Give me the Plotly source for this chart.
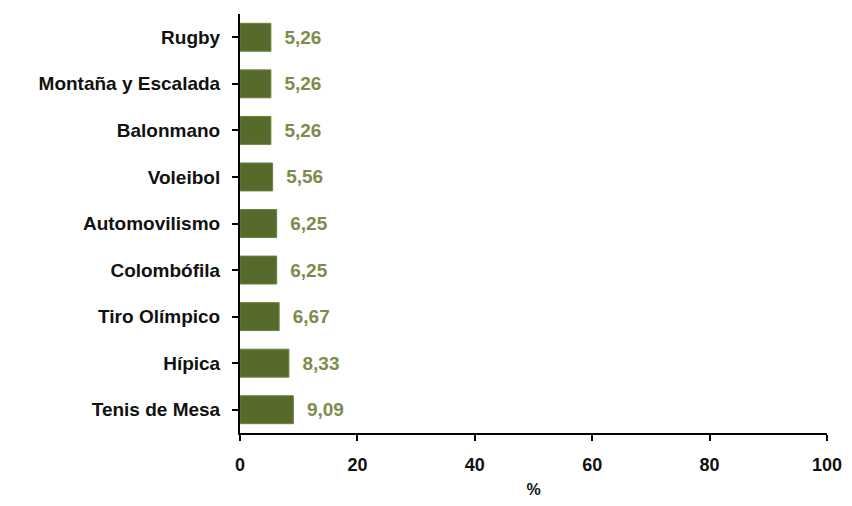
import plotly.graph_objects as go

categories = ["Tenis de Mesa", "Hípica", "Tiro Olímpico", "Colombófila", "Automovilismo",
              "Voleibol", "Balonmano", "Montaña y Escalada", "Rugby"]
values = [9.09, 8.33, 6.67, 6.25, 6.25, 5.56, 5.26, 5.26, 5.26]
labels = ["  " + f"{v:.2f}".replace(".", ",") for v in values]

fig = go.Figure(go.Bar(
    x=values, y=categories, orientation="h",
    marker=dict(color="#566b2b", line=dict(color="#6e8040", width=1)),
    width=0.6,
    text=labels, textposition="outside", cliponaxis=False,
    textfont=dict(color="#7c8c4a", size=19, family="Liberation Sans", weight="bold"),
))

# page body has an 8px margin
fig.update_layout(
    width=844, height=490,
    margin=dict(l=232, r=25, t=6, b=65),
    paper_bgcolor="white", plot_bgcolor="white",
    showlegend=False,
    font=dict(family="Liberation Sans", color="#111111"),
    xaxis=dict(range=[0, 100], tickvals=[0, 20, 40, 60, 80, 100], automargin=False,
               ticklabeloverflow="allow",
               showgrid=False, zeroline=False, showline=True, linecolor="black", linewidth=2,
               ticks="outside", ticklen=6, tickwidth=2, tickcolor="black",
               tickfont=dict(size=18, weight="bold"), ticklabelstandoff=8,
               title=dict(text="%", font=dict(size=16, weight="bold"), standoff=15)),
    yaxis=dict(showgrid=False, zeroline=False, showline=True, linecolor="black", linewidth=2,
               automargin=False,
               ticks="outside", ticklen=6, tickwidth=2, tickcolor="black",
               tickfont=dict(size=19, weight="bold"), ticklabelstandoff=8),
)

fig.write_html("out.html")
